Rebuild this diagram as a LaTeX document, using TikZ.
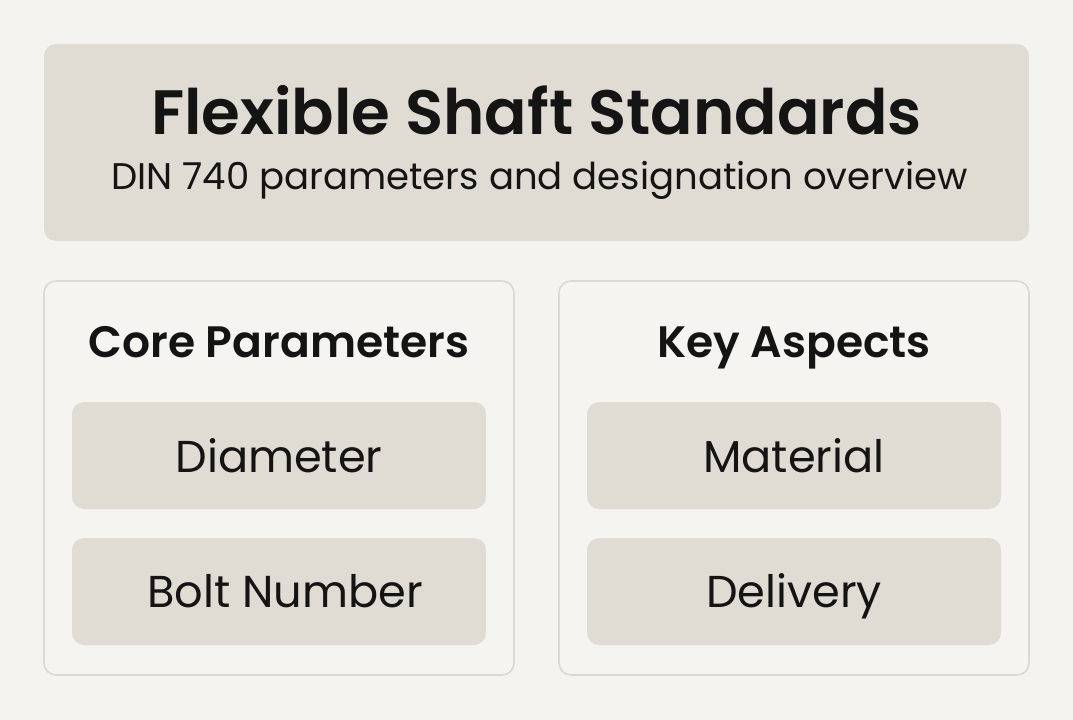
\documentclass[tikz,border=0pt]{standalone}
\usepackage{fontspec}
\setmainfont{Poppins}[BoldFont={Poppins SemiBold}]
\definecolor{bg}{HTML}{F4F3EF}
\definecolor{boxfill}{HTML}{E0DCD4}
\definecolor{panelfill}{HTML}{F5F4F0}
\definecolor{panelline}{HTML}{DDD9D2}
\definecolor{ink}{HTML}{141414}
\begin{document}
\begin{tikzpicture}[x=0.75pt,y=-0.75pt,
  header/.style={fill=boxfill,draw=none,rounded corners=9pt},
  panel/.style={fill=panelfill,draw=panelline,line width=1.2pt,rounded corners=9pt},
  item/.style={fill=boxfill,draw=none,rounded corners=9pt},
  itemtext/.style={text=ink,anchor=base,inner sep=0pt,font=\fontsize{33.5}{38}\selectfont},
  paneltitle/.style={text=ink,anchor=base,inner sep=0pt,font=\fontsize{33}{38}\selectfont\bfseries},
]
\fill[bg] (0,0) rectangle (1073,720);
\useasboundingbox (0,0) rectangle (1073,720);
\path[header] (44,44) rectangle (1029,241);
\node[text=ink,anchor=base,inner sep=0pt,font=\fontsize{47}{54}\selectfont\bfseries] (title) at (536.5,135) {Flexible Shaft Standards};
\node[text=ink,anchor=base,inner sep=0pt,font=\fontsize{27.8}{32}\selectfont] (subtitle) at (539.5,190) {DIN 740 parameters and designation overview};
\path[panel] (44,281) rectangle (514,675);
\path[panel] (559,281) rectangle (1029,675);
\node[paneltitle] (lt) at (279,357) {Core Parameters};
\node[paneltitle] (rt) at (794,357) {Key Aspects};
\path[item] (72,402) rectangle (486,509);
\path[item] (72,538) rectangle (486,645);
\path[item] (587,402) rectangle (1001,509);
\path[item] (587,538) rectangle (1001,645);
\node[itemtext] (d) at (279,472) {Diameter};
\node[itemtext] (b) at (285,607) {Bolt Number};
\node[itemtext] (m) at (794,472) {Material};
\node[itemtext] (dl) at (794,607) {Delivery};
\end{tikzpicture}
\end{document}
